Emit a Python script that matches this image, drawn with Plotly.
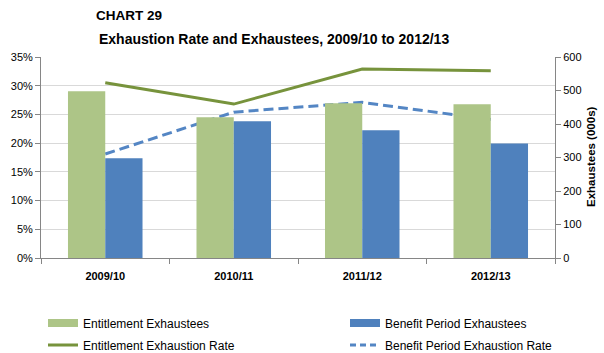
import plotly.graph_objects as go

categories = ["2009/10", "2010/11", "2011/12", "2012/13"]
entitlement_exhaustees = [498, 420, 462, 459]
benefit_period_exhaustees = [298, 408, 381, 342]
entitlement_rate = [30.5, 26.8, 32.9, 32.6]
benefit_period_rate = [18.1, 25.4, 27.1, 24.1]

GREEN_BAR = "#ADC587"
BLUE_BAR = "#4F81BD"
GREEN_LINE = "#77933C"
BLUE_LINE = "#5486C4"
FONT = "Liberation Sans"
W, H = 604, 353
ML, MR, MT, MB = 41, 49, 57, 95

fig = go.Figure()

fig.add_trace(go.Bar(x=categories, y=entitlement_exhaustees, name="Entitlement Exhaustees",
                     marker=dict(color=GREEN_BAR, line=dict(width=0)), yaxis="y2", showlegend=False))
fig.add_trace(go.Bar(x=categories, y=benefit_period_exhaustees, name="Benefit Period Exhaustees",
                     marker=dict(color=BLUE_BAR, line=dict(width=0)), yaxis="y2", showlegend=False))
fig.add_trace(go.Scatter(x=categories, y=entitlement_rate, name="Entitlement Exhaustion Rate",
                         mode="lines", line=dict(color=GREEN_LINE, width=3), showlegend=False))
fig.add_trace(go.Scatter(x=categories, y=benefit_period_rate, name="Benefit Period Exhaustion Rate",
                         mode="lines", line=dict(color=BLUE_LINE, width=3, dash="10px,5px"), showlegend=False))

# legend-only entries (wide swatches like the original), one legend each for exact placement
legend_items = [
    ("Entitlement Exhaustees", GREEN_BAR, 8, "solid", "legend", 43, 323),
    ("Benefit Period Exhaustees", BLUE_BAR, 8, "solid", "legend2", 345, 323),
    ("Entitlement Exhaustion Rate", GREEN_LINE, 3, "solid", "legend3", 43, 345),
    ("Benefit Period Exhaustion Rate", BLUE_LINE, 3, "6px,4px", "legend4", 345, 345),
]
legend_layouts = {}
for name, color, w, dash, lg, px, py in legend_items:
    fig.add_trace(go.Scatter(x=[None], y=[None], name=name, mode="lines", legend=lg,
                             line=dict(color=color, width=w, dash=dash), showlegend=True))
    legend_layouts[lg] = dict(x=px / W, y=1 - py / H, xref="container", yref="container",
                              xanchor="left", yanchor="middle", bgcolor="rgba(0,0,0,0)",
                              font=dict(family=FONT, size=12, color="#000"))

pw = W - ML - MR
ph = H - MT - MB


def paper_x(px):
    return (px - ML) / pw


def paper_y(py):
    return (H - MB - py) / ph


fig.update_layout(
    width=W, height=H,
    margin=dict(l=ML, r=MR, t=MT, b=MB, autoexpand=False),
    paper_bgcolor="white", plot_bgcolor="white",
    font=dict(family=FONT, size=11, color="#000000"),
    barmode="group", bargap=0.42, bargroupgap=0,
    showlegend=True,
    xaxis=dict(type="category", showgrid=False, showline=True, linecolor="#868686",
               ticks="outside", tickson="boundaries", ticklen=5, tickcolor="#868686",
               tickvals=categories, ticktext=[f"<b>{c}</b>" for c in categories],
               tickfont=dict(family=FONT, size=11, color="#000"), ticklabelstandoff=8),
    yaxis=dict(range=[0, 35], dtick=5, ticksuffix="%", showgrid=True, gridcolor="#D9D9D9",
               showline=True, linecolor="#868686", ticks="outside", ticklen=5, tickcolor="#868686",
               tickfont=dict(family=FONT, size=11, color="#000"), zeroline=False),
    yaxis2=dict(range=[0, 600], dtick=100, overlaying="y", side="right", showgrid=False,
                showline=True, linecolor="#868686", ticks="outside", ticklen=5, tickcolor="#868686",
                tickfont=dict(family=FONT, size=11, color="#000"), zeroline=False),
    annotations=[
        dict(text="<b>CHART 29</b>", x=paper_x(94), y=paper_y(16), xref="paper", yref="paper",
             showarrow=False, xanchor="left", yanchor="middle",
             font=dict(family=FONT, size=13.5, color="#000")),
        dict(text="<b>Exhaustion Rate and Exhaustees, 2009/10 to 2012/13</b>", x=paper_x(97), y=paper_y(39),
             xref="paper", yref="paper", showarrow=False, xanchor="left", yanchor="middle",
             font=dict(family=FONT, size=14, color="#000")),
        dict(text="<b>Exhaustees (000s)</b>", x=paper_x(591), y=paper_y(157), xref="paper", yref="paper",
             showarrow=False, xanchor="center", yanchor="middle", textangle=-90,
             font=dict(family=FONT, size=11.5, color="#000")),
    ],
    **legend_layouts,
)

fig.write_html("out.html")
